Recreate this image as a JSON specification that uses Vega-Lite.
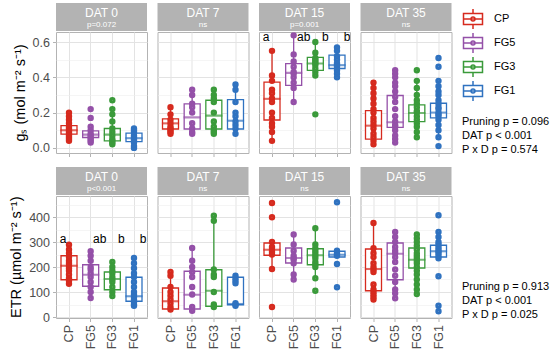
{
"$schema": "https://vega.github.io/schema/vega-lite/v6.json",
"padding": {"left": 8, "top": 3, "right": 2, "bottom": 2},
"background": "white",
"config": {
  "font": "Liberation Sans",
  "view": {"stroke": null},
  "axis": {"domain": false, "tickColor": "#B3B3B3", "tickSize": 3.5, "tickWidth": 1, "gridColor": "#E3E3E3", "gridWidth": 1, "labelColor": "#4D4D4D", "labelFontSize": 12.5, "labelFont": "Liberation Sans", "titleFont": "Liberation Sans", "titleFontWeight": "normal", "titleColor": "black", "titleFontSize": 14.5, "labelPadding": 3},
  "legend": {"orient": "none", "legendX": 406, "legendY": 5, "symbolType": "M-0.95,-0.55H0.95V0.55H-0.95Z M0,-0.55V-1 M0,0.55V1 M-0.95,0H0.95 M-0.2,0A0.2,0.2 0 1,0 0.2,0A0.2,0.2 0 1,0 -0.2,0", "symbolSize": 400, "symbolStrokeWidth": 1.5, "symbolFillColor": "transparent", "labelFontSize": 11, "labelColor": "black", "labelFont": "Liberation Sans", "rowPadding": -10, "labelOffset": 10, "padding": 0}
},
"datasets": {
  "strips": [
    {"v":"gs","d":"DAT 0","p":"p=0.072"},{"v":"gs","d":"DAT 7","p":"ns"},{"v":"gs","d":"DAT 15","p":"p=0.001"},{"v":"gs","d":"DAT 35","p":"ns"},
    {"v":"etr","d":"DAT 0","p":"p<0.001"},{"v":"etr","d":"DAT 7","p":"ns"},{"v":"etr","d":"DAT 15","p":"ns"},{"v":"etr","d":"DAT 35","p":"ns"}
  ],
  "ann": [
    {"v":"gs","line":1,"label":"Pruning p = 0.096"},{"v":"gs","line":2,"label":"DAT p < 0.001"},{"v":"gs","line":3,"label":"P x D p = 0.574"},
    {"v":"etr","line":1,"label":"Pruning p = 0.913"},{"v":"etr","line":2,"label":"DAT p < 0.001"},{"v":"etr","line":3,"label":"P x D p = 0.025"}
  ],
  "let": [
    {"v":"gs","d":"DAT 15","t":"CP","lab":"a"},{"v":"gs","d":"DAT 15","t":"FG5","lab":"ab"},{"v":"gs","d":"DAT 15","t":"FG3","lab":"b"},{"v":"gs","d":"DAT 15","t":"FG1","lab":"b"},
    {"v":"etr","d":"DAT 0","t":"CP","lab":"a"},{"v":"etr","d":"DAT 0","t":"FG5","lab":"ab"},{"v":"etr","d":"DAT 0","t":"FG3","lab":"b"},{"v":"etr","d":"DAT 0","t":"FG1","lab":"b"}
  ],
  "box": [
    {"v":"gs","d":"DAT 0","t":"CP","lo":0.04,"q1":0.078,"med":0.10,"q3":0.126,"hi":0.20},
    {"v":"gs","d":"DAT 0","t":"FG5","lo":0.03,"q1":0.059,"med":0.075,"q3":0.097,"hi":0.12},
    {"v":"gs","d":"DAT 0","t":"FG3","lo":0.02,"q1":0.04,"med":0.075,"q3":0.11,"hi":0.19},
    {"v":"gs","d":"DAT 0","t":"FG1","lo":0.0,"q1":0.036,"med":0.055,"q3":0.084,"hi":0.11},
    {"v":"gs","d":"DAT 7","t":"CP","lo":0.08,"q1":0.107,"med":0.139,"q3":0.164,"hi":0.23},
    {"v":"gs","d":"DAT 7","t":"FG5","lo":0.08,"q1":0.107,"med":0.173,"q3":0.25,"hi":0.33},
    {"v":"gs","d":"DAT 7","t":"FG3","lo":0.08,"q1":0.107,"med":0.183,"q3":0.27,"hi":0.33},
    {"v":"gs","d":"DAT 7","t":"FG1","lo":0.08,"q1":0.107,"med":0.154,"q3":0.274,"hi":0.36},
    {"v":"gs","d":"DAT 15","t":"CP","lo":0.04,"q1":0.158,"med":0.278,"q3":0.373,"hi":0.55},
    {"v":"gs","d":"DAT 15","t":"FG5","lo":0.26,"q1":0.354,"med":0.425,"q3":0.478,"hi":0.638},
    {"v":"gs","d":"DAT 15","t":"FG3","lo":0.41,"q1":0.44,"med":0.478,"q3":0.513,"hi":0.60},
    {"v":"gs","d":"DAT 15","t":"FG1","lo":0.40,"q1":0.45,"med":0.469,"q3":0.526,"hi":0.57},
    {"v":"gs","d":"DAT 35","t":"CP","lo":0.02,"q1":0.05,"med":0.126,"q3":0.211,"hi":0.37},
    {"v":"gs","d":"DAT 35","t":"FG5","lo":0.03,"q1":0.116,"med":0.145,"q3":0.297,"hi":0.44},
    {"v":"gs","d":"DAT 35","t":"FG3","lo":0.06,"q1":0.149,"med":0.198,"q3":0.244,"hi":0.38},
    {"v":"gs","d":"DAT 35","t":"FG1","lo":0.06,"q1":0.17,"med":0.20,"q3":0.253,"hi":0.38},
    {"v":"etr","d":"DAT 0","t":"CP","lo":133,"q1":149,"med":205,"q3":245,"hi":289},
    {"v":"etr","d":"DAT 0","t":"FG5","lo":76,"q1":123,"med":169,"q3":209,"hi":263},
    {"v":"etr","d":"DAT 0","t":"FG3","lo":84,"q1":109,"med":152,"q3":180,"hi":220},
    {"v":"etr","d":"DAT 0","t":"FG1","lo":45,"q1":63,"med":83,"q3":159,"hi":236},
    {"v":"etr","d":"DAT 7","t":"CP","lo":30,"q1":32,"med":63,"q3":116,"hi":180},
    {"v":"etr","d":"DAT 7","t":"FG5","lo":25,"q1":32,"med":89,"q3":183,"hi":276},
    {"v":"etr","d":"DAT 7","t":"FG3","lo":40,"q1":43,"med":105,"q3":189,"hi":405},
    {"v":"etr","d":"DAT 7","t":"FG1","lo":45,"q1":49,"med":52,"q3":159,"hi":165},
    {"v":"etr","d":"DAT 15","t":"CP","lo":192,"q1":247,"med":269,"q3":296,"hi":300},
    {"v":"etr","d":"DAT 15","t":"FG5","lo":150,"q1":216,"med":236,"q3":276,"hi":330},
    {"v":"etr","d":"DAT 15","t":"FG3","lo":155,"q1":209,"med":247,"q3":273,"hi":355},
    {"v":"etr","d":"DAT 15","t":"FG1","lo":245,"q1":240,"med":249,"q3":263,"hi":265},
    {"v":"etr","d":"DAT 35","t":"CP","lo":70,"q1":105,"med":192,"q3":272,"hi":376},
    {"v":"etr","d":"DAT 35","t":"FG5","lo":75,"q1":149,"med":253,"q3":296,"hi":340},
    {"v":"etr","d":"DAT 35","t":"FG3","lo":92,"q1":196,"med":229,"q3":276,"hi":330},
    {"v":"etr","d":"DAT 35","t":"FG1","lo":235,"q1":240,"med":263,"q3":287,"hi":340}
  ],
  "pts": [
    {"v":"gs","d":"DAT 0","t":"CP","y":0.20},{"v":"gs","d":"DAT 0","t":"CP","y":0.18},{"v":"gs","d":"DAT 0","t":"CP","y":0.16},{"v":"gs","d":"DAT 0","t":"CP","y":0.14},{"v":"gs","d":"DAT 0","t":"CP","y":0.12},{"v":"gs","d":"DAT 0","t":"CP","y":0.11},{"v":"gs","d":"DAT 0","t":"CP","y":0.10},{"v":"gs","d":"DAT 0","t":"CP","y":0.09},{"v":"gs","d":"DAT 0","t":"CP","y":0.08},{"v":"gs","d":"DAT 0","t":"CP","y":0.07},{"v":"gs","d":"DAT 0","t":"CP","y":0.06},{"v":"gs","d":"DAT 0","t":"CP","y":0.05},{"v":"gs","d":"DAT 0","t":"CP","y":0.04},
    {"v":"gs","d":"DAT 0","t":"FG5","y":0.22},{"v":"gs","d":"DAT 0","t":"FG5","y":0.17},{"v":"gs","d":"DAT 0","t":"FG5","y":0.12},{"v":"gs","d":"DAT 0","t":"FG5","y":0.10},{"v":"gs","d":"DAT 0","t":"FG5","y":0.08},{"v":"gs","d":"DAT 0","t":"FG5","y":0.07},{"v":"gs","d":"DAT 0","t":"FG5","y":0.06},{"v":"gs","d":"DAT 0","t":"FG5","y":0.05},{"v":"gs","d":"DAT 0","t":"FG5","y":0.04},{"v":"gs","d":"DAT 0","t":"FG5","y":0.03},
    {"v":"gs","d":"DAT 0","t":"FG3","y":0.27},{"v":"gs","d":"DAT 0","t":"FG3","y":0.22},{"v":"gs","d":"DAT 0","t":"FG3","y":0.19},{"v":"gs","d":"DAT 0","t":"FG3","y":0.15},{"v":"gs","d":"DAT 0","t":"FG3","y":0.11},{"v":"gs","d":"DAT 0","t":"FG3","y":0.09},{"v":"gs","d":"DAT 0","t":"FG3","y":0.07},{"v":"gs","d":"DAT 0","t":"FG3","y":0.05},{"v":"gs","d":"DAT 0","t":"FG3","y":0.04},{"v":"gs","d":"DAT 0","t":"FG3","y":0.03},{"v":"gs","d":"DAT 0","t":"FG3","y":0.02},
    {"v":"gs","d":"DAT 0","t":"FG1","y":0.11},{"v":"gs","d":"DAT 0","t":"FG1","y":0.10},{"v":"gs","d":"DAT 0","t":"FG1","y":0.09},{"v":"gs","d":"DAT 0","t":"FG1","y":0.07},{"v":"gs","d":"DAT 0","t":"FG1","y":0.06},{"v":"gs","d":"DAT 0","t":"FG1","y":0.05},{"v":"gs","d":"DAT 0","t":"FG1","y":0.04},{"v":"gs","d":"DAT 0","t":"FG1","y":0.03},{"v":"gs","d":"DAT 0","t":"FG1","y":0.01},{"v":"gs","d":"DAT 0","t":"FG1","y":0.00},
    {"v":"gs","d":"DAT 7","t":"CP","y":0.23},{"v":"gs","d":"DAT 7","t":"CP","y":0.19},{"v":"gs","d":"DAT 7","t":"CP","y":0.16},{"v":"gs","d":"DAT 7","t":"CP","y":0.14},{"v":"gs","d":"DAT 7","t":"CP","y":0.12},{"v":"gs","d":"DAT 7","t":"CP","y":0.11},{"v":"gs","d":"DAT 7","t":"CP","y":0.10},{"v":"gs","d":"DAT 7","t":"CP","y":0.09},{"v":"gs","d":"DAT 7","t":"CP","y":0.08},
    {"v":"gs","d":"DAT 7","t":"FG5","y":0.33},{"v":"gs","d":"DAT 7","t":"FG5","y":0.30},{"v":"gs","d":"DAT 7","t":"FG5","y":0.25},{"v":"gs","d":"DAT 7","t":"FG5","y":0.23},{"v":"gs","d":"DAT 7","t":"FG5","y":0.20},{"v":"gs","d":"DAT 7","t":"FG5","y":0.14},{"v":"gs","d":"DAT 7","t":"FG5","y":0.11},{"v":"gs","d":"DAT 7","t":"FG5","y":0.09},{"v":"gs","d":"DAT 7","t":"FG5","y":0.08},
    {"v":"gs","d":"DAT 7","t":"FG3","y":0.33},{"v":"gs","d":"DAT 7","t":"FG3","y":0.30},{"v":"gs","d":"DAT 7","t":"FG3","y":0.28},{"v":"gs","d":"DAT 7","t":"FG3","y":0.26},{"v":"gs","d":"DAT 7","t":"FG3","y":0.20},{"v":"gs","d":"DAT 7","t":"FG3","y":0.15},{"v":"gs","d":"DAT 7","t":"FG3","y":0.12},{"v":"gs","d":"DAT 7","t":"FG3","y":0.10},{"v":"gs","d":"DAT 7","t":"FG3","y":0.09},{"v":"gs","d":"DAT 7","t":"FG3","y":0.08},
    {"v":"gs","d":"DAT 7","t":"FG1","y":0.36},{"v":"gs","d":"DAT 7","t":"FG1","y":0.33},{"v":"gs","d":"DAT 7","t":"FG1","y":0.26},{"v":"gs","d":"DAT 7","t":"FG1","y":0.20},{"v":"gs","d":"DAT 7","t":"FG1","y":0.18},{"v":"gs","d":"DAT 7","t":"FG1","y":0.15},{"v":"gs","d":"DAT 7","t":"FG1","y":0.13},{"v":"gs","d":"DAT 7","t":"FG1","y":0.11},{"v":"gs","d":"DAT 7","t":"FG1","y":0.08},
    {"v":"gs","d":"DAT 15","t":"CP","y":0.55},{"v":"gs","d":"DAT 15","t":"CP","y":0.41},{"v":"gs","d":"DAT 15","t":"CP","y":0.38},{"v":"gs","d":"DAT 15","t":"CP","y":0.33},{"v":"gs","d":"DAT 15","t":"CP","y":0.31},{"v":"gs","d":"DAT 15","t":"CP","y":0.28},{"v":"gs","d":"DAT 15","t":"CP","y":0.26},{"v":"gs","d":"DAT 15","t":"CP","y":0.20},{"v":"gs","d":"DAT 15","t":"CP","y":0.17},{"v":"gs","d":"DAT 15","t":"CP","y":0.14},{"v":"gs","d":"DAT 15","t":"CP","y":0.12},{"v":"gs","d":"DAT 15","t":"CP","y":0.09},{"v":"gs","d":"DAT 15","t":"CP","y":0.04},
    {"v":"gs","d":"DAT 15","t":"FG5","y":0.638},{"v":"gs","d":"DAT 15","t":"FG5","y":0.53},{"v":"gs","d":"DAT 15","t":"FG5","y":0.49},{"v":"gs","d":"DAT 15","t":"FG5","y":0.46},{"v":"gs","d":"DAT 15","t":"FG5","y":0.43},{"v":"gs","d":"DAT 15","t":"FG5","y":0.42},{"v":"gs","d":"DAT 15","t":"FG5","y":0.40},{"v":"gs","d":"DAT 15","t":"FG5","y":0.37},{"v":"gs","d":"DAT 15","t":"FG5","y":0.34},{"v":"gs","d":"DAT 15","t":"FG5","y":0.26},
    {"v":"gs","d":"DAT 15","t":"FG3","y":0.60},{"v":"gs","d":"DAT 15","t":"FG3","y":0.54},{"v":"gs","d":"DAT 15","t":"FG3","y":0.51},{"v":"gs","d":"DAT 15","t":"FG3","y":0.50},{"v":"gs","d":"DAT 15","t":"FG3","y":0.49},{"v":"gs","d":"DAT 15","t":"FG3","y":0.48},{"v":"gs","d":"DAT 15","t":"FG3","y":0.47},{"v":"gs","d":"DAT 15","t":"FG3","y":0.45},{"v":"gs","d":"DAT 15","t":"FG3","y":0.43},{"v":"gs","d":"DAT 15","t":"FG3","y":0.41},{"v":"gs","d":"DAT 15","t":"FG3","y":0.19},
    {"v":"gs","d":"DAT 15","t":"FG1","y":0.57},{"v":"gs","d":"DAT 15","t":"FG1","y":0.55},{"v":"gs","d":"DAT 15","t":"FG1","y":0.52},{"v":"gs","d":"DAT 15","t":"FG1","y":0.50},{"v":"gs","d":"DAT 15","t":"FG1","y":0.48},{"v":"gs","d":"DAT 15","t":"FG1","y":0.47},{"v":"gs","d":"DAT 15","t":"FG1","y":0.46},{"v":"gs","d":"DAT 15","t":"FG1","y":0.44},{"v":"gs","d":"DAT 15","t":"FG1","y":0.42},{"v":"gs","d":"DAT 15","t":"FG1","y":0.40},
    {"v":"gs","d":"DAT 35","t":"CP","y":0.37},{"v":"gs","d":"DAT 35","t":"CP","y":0.34},{"v":"gs","d":"DAT 35","t":"CP","y":0.31},{"v":"gs","d":"DAT 35","t":"CP","y":0.28},{"v":"gs","d":"DAT 35","t":"CP","y":0.25},{"v":"gs","d":"DAT 35","t":"CP","y":0.22},{"v":"gs","d":"DAT 35","t":"CP","y":0.20},{"v":"gs","d":"DAT 35","t":"CP","y":0.17},{"v":"gs","d":"DAT 35","t":"CP","y":0.15},{"v":"gs","d":"DAT 35","t":"CP","y":0.13},{"v":"gs","d":"DAT 35","t":"CP","y":0.11},{"v":"gs","d":"DAT 35","t":"CP","y":0.08},{"v":"gs","d":"DAT 35","t":"CP","y":0.06},{"v":"gs","d":"DAT 35","t":"CP","y":0.04},{"v":"gs","d":"DAT 35","t":"CP","y":0.02},
    {"v":"gs","d":"DAT 35","t":"FG5","y":0.44},{"v":"gs","d":"DAT 35","t":"FG5","y":0.42},{"v":"gs","d":"DAT 35","t":"FG5","y":0.40},{"v":"gs","d":"DAT 35","t":"FG5","y":0.37},{"v":"gs","d":"DAT 35","t":"FG5","y":0.35},{"v":"gs","d":"DAT 35","t":"FG5","y":0.32},{"v":"gs","d":"DAT 35","t":"FG5","y":0.29},{"v":"gs","d":"DAT 35","t":"FG5","y":0.26},{"v":"gs","d":"DAT 35","t":"FG5","y":0.22},{"v":"gs","d":"DAT 35","t":"FG5","y":0.18},{"v":"gs","d":"DAT 35","t":"FG5","y":0.15},{"v":"gs","d":"DAT 35","t":"FG5","y":0.13},{"v":"gs","d":"DAT 35","t":"FG5","y":0.12},{"v":"gs","d":"DAT 35","t":"FG5","y":0.10},{"v":"gs","d":"DAT 35","t":"FG5","y":0.07},{"v":"gs","d":"DAT 35","t":"FG5","y":0.05},{"v":"gs","d":"DAT 35","t":"FG5","y":0.03},
    {"v":"gs","d":"DAT 35","t":"FG3","y":0.44},{"v":"gs","d":"DAT 35","t":"FG3","y":0.38},{"v":"gs","d":"DAT 35","t":"FG3","y":0.34},{"v":"gs","d":"DAT 35","t":"FG3","y":0.30},{"v":"gs","d":"DAT 35","t":"FG3","y":0.27},{"v":"gs","d":"DAT 35","t":"FG3","y":0.25},{"v":"gs","d":"DAT 35","t":"FG3","y":0.23},{"v":"gs","d":"DAT 35","t":"FG3","y":0.21},{"v":"gs","d":"DAT 35","t":"FG3","y":0.20},{"v":"gs","d":"DAT 35","t":"FG3","y":0.18},{"v":"gs","d":"DAT 35","t":"FG3","y":0.16},{"v":"gs","d":"DAT 35","t":"FG3","y":0.14},{"v":"gs","d":"DAT 35","t":"FG3","y":0.12},{"v":"gs","d":"DAT 35","t":"FG3","y":0.09},{"v":"gs","d":"DAT 35","t":"FG3","y":0.06},
    {"v":"gs","d":"DAT 35","t":"FG1","y":0.51},{"v":"gs","d":"DAT 35","t":"FG1","y":0.46},{"v":"gs","d":"DAT 35","t":"FG1","y":0.38},{"v":"gs","d":"DAT 35","t":"FG1","y":0.35},{"v":"gs","d":"DAT 35","t":"FG1","y":0.32},{"v":"gs","d":"DAT 35","t":"FG1","y":0.30},{"v":"gs","d":"DAT 35","t":"FG1","y":0.27},{"v":"gs","d":"DAT 35","t":"FG1","y":0.25},{"v":"gs","d":"DAT 35","t":"FG1","y":0.23},{"v":"gs","d":"DAT 35","t":"FG1","y":0.22},{"v":"gs","d":"DAT 35","t":"FG1","y":0.20},{"v":"gs","d":"DAT 35","t":"FG1","y":0.19},{"v":"gs","d":"DAT 35","t":"FG1","y":0.18},{"v":"gs","d":"DAT 35","t":"FG1","y":0.16},{"v":"gs","d":"DAT 35","t":"FG1","y":0.13},{"v":"gs","d":"DAT 35","t":"FG1","y":0.10},{"v":"gs","d":"DAT 35","t":"FG1","y":0.06},{"v":"gs","d":"DAT 35","t":"FG1","y":0.01},
    {"v":"etr","d":"DAT 0","t":"CP","y":289},{"v":"etr","d":"DAT 0","t":"CP","y":270},{"v":"etr","d":"DAT 0","t":"CP","y":255},{"v":"etr","d":"DAT 0","t":"CP","y":240},{"v":"etr","d":"DAT 0","t":"CP","y":225},{"v":"etr","d":"DAT 0","t":"CP","y":215},{"v":"etr","d":"DAT 0","t":"CP","y":205},{"v":"etr","d":"DAT 0","t":"CP","y":195},{"v":"etr","d":"DAT 0","t":"CP","y":185},{"v":"etr","d":"DAT 0","t":"CP","y":170},{"v":"etr","d":"DAT 0","t":"CP","y":155},{"v":"etr","d":"DAT 0","t":"CP","y":145},{"v":"etr","d":"DAT 0","t":"CP","y":133},
    {"v":"etr","d":"DAT 0","t":"FG5","y":263},{"v":"etr","d":"DAT 0","t":"FG5","y":245},{"v":"etr","d":"DAT 0","t":"FG5","y":225},{"v":"etr","d":"DAT 0","t":"FG5","y":200},{"v":"etr","d":"DAT 0","t":"FG5","y":190},{"v":"etr","d":"DAT 0","t":"FG5","y":175},{"v":"etr","d":"DAT 0","t":"FG5","y":160},{"v":"etr","d":"DAT 0","t":"FG5","y":140},{"v":"etr","d":"DAT 0","t":"FG5","y":120},{"v":"etr","d":"DAT 0","t":"FG5","y":100},{"v":"etr","d":"DAT 0","t":"FG5","y":76},
    {"v":"etr","d":"DAT 0","t":"FG3","y":220},{"v":"etr","d":"DAT 0","t":"FG3","y":200},{"v":"etr","d":"DAT 0","t":"FG3","y":185},{"v":"etr","d":"DAT 0","t":"FG3","y":175},{"v":"etr","d":"DAT 0","t":"FG3","y":160},{"v":"etr","d":"DAT 0","t":"FG3","y":150},{"v":"etr","d":"DAT 0","t":"FG3","y":140},{"v":"etr","d":"DAT 0","t":"FG3","y":120},{"v":"etr","d":"DAT 0","t":"FG3","y":100},{"v":"etr","d":"DAT 0","t":"FG3","y":84},
    {"v":"etr","d":"DAT 0","t":"FG1","y":236},{"v":"etr","d":"DAT 0","t":"FG1","y":215},{"v":"etr","d":"DAT 0","t":"FG1","y":195},{"v":"etr","d":"DAT 0","t":"FG1","y":175},{"v":"etr","d":"DAT 0","t":"FG1","y":160},{"v":"etr","d":"DAT 0","t":"FG1","y":140},{"v":"etr","d":"DAT 0","t":"FG1","y":120},{"v":"etr","d":"DAT 0","t":"FG1","y":100},{"v":"etr","d":"DAT 0","t":"FG1","y":90},{"v":"etr","d":"DAT 0","t":"FG1","y":80},{"v":"etr","d":"DAT 0","t":"FG1","y":70},{"v":"etr","d":"DAT 0","t":"FG1","y":60},{"v":"etr","d":"DAT 0","t":"FG1","y":50},{"v":"etr","d":"DAT 0","t":"FG1","y":45},
    {"v":"etr","d":"DAT 7","t":"CP","y":180},{"v":"etr","d":"DAT 7","t":"CP","y":165},{"v":"etr","d":"DAT 7","t":"CP","y":120},{"v":"etr","d":"DAT 7","t":"CP","y":100},{"v":"etr","d":"DAT 7","t":"CP","y":85},{"v":"etr","d":"DAT 7","t":"CP","y":70},{"v":"etr","d":"DAT 7","t":"CP","y":55},{"v":"etr","d":"DAT 7","t":"CP","y":40},{"v":"etr","d":"DAT 7","t":"CP","y":30},
    {"v":"etr","d":"DAT 7","t":"FG5","y":276},{"v":"etr","d":"DAT 7","t":"FG5","y":225},{"v":"etr","d":"DAT 7","t":"FG5","y":200},{"v":"etr","d":"DAT 7","t":"FG5","y":180},{"v":"etr","d":"DAT 7","t":"FG5","y":160},{"v":"etr","d":"DAT 7","t":"FG5","y":120},{"v":"etr","d":"DAT 7","t":"FG5","y":90},{"v":"etr","d":"DAT 7","t":"FG5","y":40},{"v":"etr","d":"DAT 7","t":"FG5","y":25},
    {"v":"etr","d":"DAT 7","t":"FG3","y":405},{"v":"etr","d":"DAT 7","t":"FG3","y":385},{"v":"etr","d":"DAT 7","t":"FG3","y":190},{"v":"etr","d":"DAT 7","t":"FG3","y":170},{"v":"etr","d":"DAT 7","t":"FG3","y":160},{"v":"etr","d":"DAT 7","t":"FG3","y":100},{"v":"etr","d":"DAT 7","t":"FG3","y":50},{"v":"etr","d":"DAT 7","t":"FG3","y":40},
    {"v":"etr","d":"DAT 7","t":"FG1","y":165},{"v":"etr","d":"DAT 7","t":"FG1","y":155},{"v":"etr","d":"DAT 7","t":"FG1","y":145},{"v":"etr","d":"DAT 7","t":"FG1","y":135},{"v":"etr","d":"DAT 7","t":"FG1","y":55},{"v":"etr","d":"DAT 7","t":"FG1","y":50},{"v":"etr","d":"DAT 7","t":"FG1","y":45},
    {"v":"etr","d":"DAT 15","t":"CP","y":456},{"v":"etr","d":"DAT 15","t":"CP","y":399},{"v":"etr","d":"DAT 15","t":"CP","y":300},{"v":"etr","d":"DAT 15","t":"CP","y":280},{"v":"etr","d":"DAT 15","t":"CP","y":270},{"v":"etr","d":"DAT 15","t":"CP","y":260},{"v":"etr","d":"DAT 15","t":"CP","y":250},{"v":"etr","d":"DAT 15","t":"CP","y":192},{"v":"etr","d":"DAT 15","t":"CP","y":40},
    {"v":"etr","d":"DAT 15","t":"FG5","y":330},{"v":"etr","d":"DAT 15","t":"FG5","y":290},{"v":"etr","d":"DAT 15","t":"FG5","y":265},{"v":"etr","d":"DAT 15","t":"FG5","y":245},{"v":"etr","d":"DAT 15","t":"FG5","y":235},{"v":"etr","d":"DAT 15","t":"FG5","y":230},{"v":"etr","d":"DAT 15","t":"FG5","y":215},{"v":"etr","d":"DAT 15","t":"FG5","y":170},{"v":"etr","d":"DAT 15","t":"FG5","y":150},
    {"v":"etr","d":"DAT 15","t":"FG3","y":355},{"v":"etr","d":"DAT 15","t":"FG3","y":290},{"v":"etr","d":"DAT 15","t":"FG3","y":275},{"v":"etr","d":"DAT 15","t":"FG3","y":265},{"v":"etr","d":"DAT 15","t":"FG3","y":255},{"v":"etr","d":"DAT 15","t":"FG3","y":245},{"v":"etr","d":"DAT 15","t":"FG3","y":235},{"v":"etr","d":"DAT 15","t":"FG3","y":220},{"v":"etr","d":"DAT 15","t":"FG3","y":210},{"v":"etr","d":"DAT 15","t":"FG3","y":200},{"v":"etr","d":"DAT 15","t":"FG3","y":155},{"v":"etr","d":"DAT 15","t":"FG3","y":105},
    {"v":"etr","d":"DAT 15","t":"FG1","y":459},{"v":"etr","d":"DAT 15","t":"FG1","y":265},{"v":"etr","d":"DAT 15","t":"FG1","y":255},{"v":"etr","d":"DAT 15","t":"FG1","y":250},{"v":"etr","d":"DAT 15","t":"FG1","y":245},{"v":"etr","d":"DAT 15","t":"FG1","y":212},{"v":"etr","d":"DAT 15","t":"FG1","y":119},
    {"v":"etr","d":"DAT 35","t":"CP","y":376},{"v":"etr","d":"DAT 35","t":"CP","y":275},{"v":"etr","d":"DAT 35","t":"CP","y":255},{"v":"etr","d":"DAT 35","t":"CP","y":240},{"v":"etr","d":"DAT 35","t":"CP","y":215},{"v":"etr","d":"DAT 35","t":"CP","y":200},{"v":"etr","d":"DAT 35","t":"CP","y":190},{"v":"etr","d":"DAT 35","t":"CP","y":180},{"v":"etr","d":"DAT 35","t":"CP","y":130},{"v":"etr","d":"DAT 35","t":"CP","y":110},{"v":"etr","d":"DAT 35","t":"CP","y":100},{"v":"etr","d":"DAT 35","t":"CP","y":90},{"v":"etr","d":"DAT 35","t":"CP","y":80},{"v":"etr","d":"DAT 35","t":"CP","y":70},
    {"v":"etr","d":"DAT 35","t":"FG5","y":340},{"v":"etr","d":"DAT 35","t":"FG5","y":320},{"v":"etr","d":"DAT 35","t":"FG5","y":300},{"v":"etr","d":"DAT 35","t":"FG5","y":280},{"v":"etr","d":"DAT 35","t":"FG5","y":265},{"v":"etr","d":"DAT 35","t":"FG5","y":255},{"v":"etr","d":"DAT 35","t":"FG5","y":240},{"v":"etr","d":"DAT 35","t":"FG5","y":220},{"v":"etr","d":"DAT 35","t":"FG5","y":190},{"v":"etr","d":"DAT 35","t":"FG5","y":165},{"v":"etr","d":"DAT 35","t":"FG5","y":140},{"v":"etr","d":"DAT 35","t":"FG5","y":110},{"v":"etr","d":"DAT 35","t":"FG5","y":95},{"v":"etr","d":"DAT 35","t":"FG5","y":75},
    {"v":"etr","d":"DAT 35","t":"FG3","y":330},{"v":"etr","d":"DAT 35","t":"FG3","y":315},{"v":"etr","d":"DAT 35","t":"FG3","y":300},{"v":"etr","d":"DAT 35","t":"FG3","y":285},{"v":"etr","d":"DAT 35","t":"FG3","y":270},{"v":"etr","d":"DAT 35","t":"FG3","y":255},{"v":"etr","d":"DAT 35","t":"FG3","y":245},{"v":"etr","d":"DAT 35","t":"FG3","y":235},{"v":"etr","d":"DAT 35","t":"FG3","y":225},{"v":"etr","d":"DAT 35","t":"FG3","y":215},{"v":"etr","d":"DAT 35","t":"FG3","y":200},{"v":"etr","d":"DAT 35","t":"FG3","y":185},{"v":"etr","d":"DAT 35","t":"FG3","y":170},{"v":"etr","d":"DAT 35","t":"FG3","y":150},{"v":"etr","d":"DAT 35","t":"FG3","y":130},{"v":"etr","d":"DAT 35","t":"FG3","y":110},{"v":"etr","d":"DAT 35","t":"FG3","y":92},
    {"v":"etr","d":"DAT 35","t":"FG1","y":407},{"v":"etr","d":"DAT 35","t":"FG1","y":340},{"v":"etr","d":"DAT 35","t":"FG1","y":320},{"v":"etr","d":"DAT 35","t":"FG1","y":300},{"v":"etr","d":"DAT 35","t":"FG1","y":290},{"v":"etr","d":"DAT 35","t":"FG1","y":280},{"v":"etr","d":"DAT 35","t":"FG1","y":270},{"v":"etr","d":"DAT 35","t":"FG1","y":262},{"v":"etr","d":"DAT 35","t":"FG1","y":255},{"v":"etr","d":"DAT 35","t":"FG1","y":245},{"v":"etr","d":"DAT 35","t":"FG1","y":235},{"v":"etr","d":"DAT 35","t":"FG1","y":163},{"v":"etr","d":"DAT 35","t":"FG1","y":45},{"v":"etr","d":"DAT 35","t":"FG1","y":23}
  ]
},
"columns": 5,
"spacing": {"row": 0, "column": 8.5},
"concat": [
  {"width": 91, "height": 28, "data": {"name": "strips"}, "transform": [{"filter": "datum.v=='gs' && datum.d=='DAT 0'"}], "layer": [{"mark": {"type": "rect", "color": "#B3B3B3"}, "encoding": {}}, {"mark": {"type": "text", "color": "white", "fontSize": 12, "dy": -4}, "encoding": {"text": {"field": "d"}}}, {"mark": {"type": "text", "color": "white", "fontSize": 8, "dy": 8}, "encoding": {"text": {"field": "p"}}}]},
  {"width": 91, "height": 28, "data": {"name": "strips"}, "transform": [{"filter": "datum.v=='gs' && datum.d=='DAT 7'"}], "layer": [{"mark": {"type": "rect", "color": "#B3B3B3"}, "encoding": {}}, {"mark": {"type": "text", "color": "white", "fontSize": 12, "dy": -4}, "encoding": {"text": {"field": "d"}}}, {"mark": {"type": "text", "color": "white", "fontSize": 8, "dy": 8}, "encoding": {"text": {"field": "p"}}}]},
  {"width": 91, "height": 28, "data": {"name": "strips"}, "transform": [{"filter": "datum.v=='gs' && datum.d=='DAT 15'"}], "layer": [{"mark": {"type": "rect", "color": "#B3B3B3"}, "encoding": {}}, {"mark": {"type": "text", "color": "white", "fontSize": 12, "dy": -4}, "encoding": {"text": {"field": "d"}}}, {"mark": {"type": "text", "color": "white", "fontSize": 8, "dy": 8}, "encoding": {"text": {"field": "p"}}}]},
  {"width": 91, "height": 28, "data": {"name": "strips"}, "transform": [{"filter": "datum.v=='gs' && datum.d=='DAT 35'"}], "layer": [{"mark": {"type": "rect", "color": "#B3B3B3"}, "encoding": {}}, {"mark": {"type": "text", "color": "white", "fontSize": 12, "dy": -4}, "encoding": {"text": {"field": "d"}}}, {"mark": {"type": "text", "color": "white", "fontSize": 8, "dy": 8}, "encoding": {"text": {"field": "p"}}}]},
  {"width": 2, "height": 28, "data": {"values": []}, "mark": "point", "encoding": {}},

  {"width": 91, "height": 121, "view": {"stroke": "#B3B3B3"}, "resolve": {"axis": {"y": "independent"}},
   "encoding": {"x": {"field": "t", "type": "nominal", "sort": ["CP","FG5","FG3","FG1"], "scale": {"paddingInner": 0, "paddingOuter": 0.1}, "axis": {"title": null, "labels": false, "grid": true, "bandPosition": 0.5, "minExtent": 13, "maxExtent": 13}},
                "color": {"field": "t", "type": "nominal", "title": null, "scale": {"domain": ["CP","FG5","FG3","FG1"], "range": ["#D62A1E","#9450A8","#3A9A3A","#2F72C0"]}}},
   "layer": [
     {"data": {"name": "box"}, "transform": [{"filter": "datum.v=='gs' && datum.d=='DAT 0'"}], "mark": {"type": "rule", "strokeWidth": 1.3}, "encoding": {"y": {"field": "lo", "type": "quantitative", "scale": {"domain": [-0.029, 0.657], "nice": false, "zero": false}, "axis": {"orient": "left", "values": [0.1,0.3,0.5], "labels": false, "ticks": false, "title": null, "grid": true, "gridColor": "#EFEFEF", "gridWidth": 0.6}}, "y2": {"field": "hi"}}},
     {"data": {"name": "box"}, "transform": [{"filter": "datum.v=='gs' && datum.d=='DAT 0'"}], "mark": {"type": "bar", "filled": false, "fill": "white", "strokeWidth": 1.3, "size": 16}, "encoding": {"y": {"field": "q1", "type": "quantitative", "axis": {"orient": "left", "values": [0,0.2,0.4,0.6], "format": ".1f", "title": "gₛ (mol m⁻² s⁻¹)", "grid": true, "titlePadding": 5}}, "y2": {"field": "q3"}}},
     {"data": {"name": "box"}, "transform": [{"filter": "datum.v=='gs' && datum.d=='DAT 0'"}], "mark": {"type": "tick", "filled": false, "thickness": 0.4, "strokeWidth": 1.7, "size": 15.5}, "encoding": {"y": {"field": "med", "type": "quantitative", "axis": null}}},
     {"data": {"name": "pts"}, "transform": [{"filter": "datum.v=='gs' && datum.d=='DAT 0'"}], "mark": {"type": "point", "shape": "circle", "filled": false, "size": 9, "strokeWidth": 3.4, "opacity": 1, "clip": true}, "encoding": {"y": {"field": "y", "type": "quantitative", "axis": null}}}
   ]},
  {"width": 91, "height": 121, "view": {"stroke": "#B3B3B3"}, "resolve": {"axis": {"y": "independent"}},
   "encoding": {"x": {"field": "t", "type": "nominal", "sort": ["CP","FG5","FG3","FG1"], "scale": {"paddingInner": 0, "paddingOuter": 0.1}, "axis": {"title": null, "labels": false, "grid": true, "bandPosition": 0.5, "minExtent": 13, "maxExtent": 13}},
                "color": {"field": "t", "type": "nominal", "title": null, "scale": {"domain": ["CP","FG5","FG3","FG1"], "range": ["#D62A1E","#9450A8","#3A9A3A","#2F72C0"]}}},
   "layer": [
     {"data": {"name": "box"}, "transform": [{"filter": "datum.v=='gs' && datum.d=='DAT 7'"}], "mark": {"type": "rule", "strokeWidth": 1.3}, "encoding": {"y": {"field": "lo", "type": "quantitative", "scale": {"domain": [-0.029, 0.657], "nice": false, "zero": false}, "axis": {"orient": "left", "values": [0.1,0.3,0.5], "labels": false, "ticks": false, "title": null, "grid": true, "gridColor": "#EFEFEF", "gridWidth": 0.6}}, "y2": {"field": "hi"}}},
     {"data": {"name": "box"}, "transform": [{"filter": "datum.v=='gs' && datum.d=='DAT 7'"}], "mark": {"type": "bar", "filled": false, "fill": "white", "strokeWidth": 1.3, "size": 16}, "encoding": {"y": {"field": "q1", "type": "quantitative", "axis": {"orient": "left", "values": [0,0.2,0.4,0.6], "labels": false, "ticks": false, "title": null, "grid": true}}, "y2": {"field": "q3"}}},
     {"data": {"name": "box"}, "transform": [{"filter": "datum.v=='gs' && datum.d=='DAT 7'"}], "mark": {"type": "tick", "filled": false, "thickness": 0.4, "strokeWidth": 1.7, "size": 15.5}, "encoding": {"y": {"field": "med", "type": "quantitative", "axis": null}}},
     {"data": {"name": "pts"}, "transform": [{"filter": "datum.v=='gs' && datum.d=='DAT 7'"}], "mark": {"type": "point", "shape": "circle", "filled": false, "size": 9, "strokeWidth": 3.4, "opacity": 1, "clip": true}, "encoding": {"y": {"field": "y", "type": "quantitative", "axis": null}}}
   ]},
  {"width": 91, "height": 121, "view": {"stroke": "#B3B3B3"}, "resolve": {"axis": {"y": "independent"}},
   "encoding": {"x": {"field": "t", "type": "nominal", "sort": ["CP","FG5","FG3","FG1"], "scale": {"paddingInner": 0, "paddingOuter": 0.1}, "axis": {"title": null, "labels": false, "grid": true, "bandPosition": 0.5, "minExtent": 13, "maxExtent": 13}},
                "color": {"field": "t", "type": "nominal", "title": null, "scale": {"domain": ["CP","FG5","FG3","FG1"], "range": ["#D62A1E","#9450A8","#3A9A3A","#2F72C0"]}}},
   "layer": [
     {"data": {"name": "box"}, "transform": [{"filter": "datum.v=='gs' && datum.d=='DAT 15'"}], "mark": {"type": "rule", "strokeWidth": 1.3}, "encoding": {"y": {"field": "lo", "type": "quantitative", "scale": {"domain": [-0.029, 0.657], "nice": false, "zero": false}, "axis": {"orient": "left", "values": [0.1,0.3,0.5], "labels": false, "ticks": false, "title": null, "grid": true, "gridColor": "#EFEFEF", "gridWidth": 0.6}}, "y2": {"field": "hi"}}},
     {"data": {"name": "box"}, "transform": [{"filter": "datum.v=='gs' && datum.d=='DAT 15'"}], "mark": {"type": "bar", "filled": false, "fill": "white", "strokeWidth": 1.3, "size": 16}, "encoding": {"y": {"field": "q1", "type": "quantitative", "axis": {"orient": "left", "values": [0,0.2,0.4,0.6], "labels": false, "ticks": false, "title": null, "grid": true}}, "y2": {"field": "q3"}}},
     {"data": {"name": "box"}, "transform": [{"filter": "datum.v=='gs' && datum.d=='DAT 15'"}], "mark": {"type": "tick", "filled": false, "thickness": 0.4, "strokeWidth": 1.7, "size": 15.5}, "encoding": {"y": {"field": "med", "type": "quantitative", "axis": null}}},
     {"data": {"name": "pts"}, "transform": [{"filter": "datum.v=='gs' && datum.d=='DAT 15'"}], "mark": {"type": "point", "shape": "circle", "filled": false, "size": 9, "strokeWidth": 3.4, "opacity": 1, "clip": true}, "encoding": {"y": {"field": "y", "type": "quantitative", "axis": null}}},
     {"data": {"name": "let"}, "transform": [{"filter": "datum.v=='gs' && datum.d=='DAT 15' && datum.lab=='a'"}], "mark": {"type": "text", "fontSize": 12, "dx": -6, "clip": true}, "encoding": {"y": {"datum": 0.627, "type": "quantitative", "axis": null}, "text": {"field": "lab"}, "color": {"value": "black"}}},
     {"data": {"name": "let"}, "transform": [{"filter": "datum.v=='gs' && datum.d=='DAT 15' && datum.lab!='a'"}], "mark": {"type": "text", "fontSize": 12, "dx": 10, "clip": true}, "encoding": {"y": {"datum": 0.627, "type": "quantitative", "axis": null}, "text": {"field": "lab"}, "color": {"value": "black"}}}
   ]},
  {"width": 91, "height": 121, "view": {"stroke": "#B3B3B3"}, "resolve": {"axis": {"y": "independent"}},
   "encoding": {"x": {"field": "t", "type": "nominal", "sort": ["CP","FG5","FG3","FG1"], "scale": {"paddingInner": 0, "paddingOuter": 0.1}, "axis": {"title": null, "labels": false, "grid": true, "bandPosition": 0.5, "minExtent": 13, "maxExtent": 13}},
                "color": {"field": "t", "type": "nominal", "title": null, "scale": {"domain": ["CP","FG5","FG3","FG1"], "range": ["#D62A1E","#9450A8","#3A9A3A","#2F72C0"]}}},
   "layer": [
     {"data": {"name": "box"}, "transform": [{"filter": "datum.v=='gs' && datum.d=='DAT 35'"}], "mark": {"type": "rule", "strokeWidth": 1.3}, "encoding": {"y": {"field": "lo", "type": "quantitative", "scale": {"domain": [-0.029, 0.657], "nice": false, "zero": false}, "axis": {"orient": "left", "values": [0.1,0.3,0.5], "labels": false, "ticks": false, "title": null, "grid": true, "gridColor": "#EFEFEF", "gridWidth": 0.6}}, "y2": {"field": "hi"}}},
     {"data": {"name": "box"}, "transform": [{"filter": "datum.v=='gs' && datum.d=='DAT 35'"}], "mark": {"type": "bar", "filled": false, "fill": "white", "strokeWidth": 1.3, "size": 16}, "encoding": {"y": {"field": "q1", "type": "quantitative", "axis": {"orient": "left", "values": [0,0.2,0.4,0.6], "labels": false, "ticks": false, "title": null, "grid": true}}, "y2": {"field": "q3"}}},
     {"data": {"name": "box"}, "transform": [{"filter": "datum.v=='gs' && datum.d=='DAT 35'"}], "mark": {"type": "tick", "filled": false, "thickness": 0.4, "strokeWidth": 1.7, "size": 15.5}, "encoding": {"y": {"field": "med", "type": "quantitative", "axis": null}}},
     {"data": {"name": "pts"}, "transform": [{"filter": "datum.v=='gs' && datum.d=='DAT 35'"}], "mark": {"type": "point", "shape": "circle", "filled": false, "size": 9, "strokeWidth": 3.4, "opacity": 1, "clip": true}, "encoding": {"y": {"field": "y", "type": "quantitative", "axis": null}}}
   ]},
  {"width": 2, "height": 121, "data": {"name": "ann"}, "transform": [{"filter": "datum.v=='gs'"}], "mark": {"type": "text", "align": "left", "fontSize": 11, "color": "black"}, "encoding": {"y": {"field": "line", "type": "quantitative", "axis": null, "scale": {"domain": [-5.4286, 3.2143], "reverse": true, "nice": false, "zero": false}}, "text": {"field": "label"}}},

  {"width": 91, "height": 28, "data": {"name": "strips"}, "transform": [{"filter": "datum.v=='etr' && datum.d=='DAT 0'"}], "layer": [{"mark": {"type": "rect", "color": "#B3B3B3"}, "encoding": {}}, {"mark": {"type": "text", "color": "white", "fontSize": 12, "dy": -4}, "encoding": {"text": {"field": "d"}}}, {"mark": {"type": "text", "color": "white", "fontSize": 8, "dy": 8}, "encoding": {"text": {"field": "p"}}}]},
  {"width": 91, "height": 28, "data": {"name": "strips"}, "transform": [{"filter": "datum.v=='etr' && datum.d=='DAT 7'"}], "layer": [{"mark": {"type": "rect", "color": "#B3B3B3"}, "encoding": {}}, {"mark": {"type": "text", "color": "white", "fontSize": 12, "dy": -4}, "encoding": {"text": {"field": "d"}}}, {"mark": {"type": "text", "color": "white", "fontSize": 8, "dy": 8}, "encoding": {"text": {"field": "p"}}}]},
  {"width": 91, "height": 28, "data": {"name": "strips"}, "transform": [{"filter": "datum.v=='etr' && datum.d=='DAT 15'"}], "layer": [{"mark": {"type": "rect", "color": "#B3B3B3"}, "encoding": {}}, {"mark": {"type": "text", "color": "white", "fontSize": 12, "dy": -4}, "encoding": {"text": {"field": "d"}}}, {"mark": {"type": "text", "color": "white", "fontSize": 8, "dy": 8}, "encoding": {"text": {"field": "p"}}}]},
  {"width": 91, "height": 28, "data": {"name": "strips"}, "transform": [{"filter": "datum.v=='etr' && datum.d=='DAT 35'"}], "layer": [{"mark": {"type": "rect", "color": "#B3B3B3"}, "encoding": {}}, {"mark": {"type": "text", "color": "white", "fontSize": 12, "dy": -4}, "encoding": {"text": {"field": "d"}}}, {"mark": {"type": "text", "color": "white", "fontSize": 8, "dy": 8}, "encoding": {"text": {"field": "p"}}}]},
  {"width": 2, "height": 28, "data": {"values": []}, "mark": "point", "encoding": {}},

  {"width": 91, "height": 122, "view": {"stroke": "#B3B3B3"}, "resolve": {"axis": {"y": "independent"}},
   "encoding": {"x": {"field": "t", "type": "nominal", "sort": ["CP","FG5","FG3","FG1"], "scale": {"paddingInner": 0, "paddingOuter": 0.1}, "axis": {"title": null, "labelAngle": 270, "grid": true, "bandPosition": 0.5}},
                "color": {"field": "t", "type": "nominal", "title": null, "scale": {"domain": ["CP","FG5","FG3","FG1"], "range": ["#D62A1E","#9450A8","#3A9A3A","#2F72C0"]}}},
   "layer": [
     {"data": {"name": "box"}, "transform": [{"filter": "datum.v=='etr' && datum.d=='DAT 0'"}], "mark": {"type": "rule", "strokeWidth": 1.3}, "encoding": {"y": {"field": "lo", "type": "quantitative", "scale": {"domain": [-4, 484], "nice": false, "zero": false}, "axis": {"orient": "left", "values": [50,150,250,350,450], "labels": false, "ticks": false, "title": null, "grid": true, "gridColor": "#EFEFEF", "gridWidth": 0.6}}, "y2": {"field": "hi"}}},
     {"data": {"name": "box"}, "transform": [{"filter": "datum.v=='etr' && datum.d=='DAT 0'"}], "mark": {"type": "bar", "filled": false, "fill": "white", "strokeWidth": 1.3, "size": 16}, "encoding": {"y": {"field": "q1", "type": "quantitative", "axis": {"orient": "left", "values": [0,100,200,300,400], "title": "ETR (µmol m⁻² s⁻¹)", "titleAnchor": "end", "grid": true, "titlePadding": 5}}, "y2": {"field": "q3"}}},
     {"data": {"name": "box"}, "transform": [{"filter": "datum.v=='etr' && datum.d=='DAT 0'"}], "mark": {"type": "tick", "filled": false, "thickness": 0.4, "strokeWidth": 1.7, "size": 15.5}, "encoding": {"y": {"field": "med", "type": "quantitative", "axis": null}}},
     {"data": {"name": "pts"}, "transform": [{"filter": "datum.v=='etr' && datum.d=='DAT 0'"}], "mark": {"type": "point", "shape": "circle", "filled": false, "size": 9, "strokeWidth": 3.4, "opacity": 1, "clip": true}, "encoding": {"y": {"field": "y", "type": "quantitative", "axis": null}}},
     {"data": {"name": "let"}, "transform": [{"filter": "datum.v=='etr' && datum.d=='DAT 0' && datum.lab=='a'"}], "mark": {"type": "text", "fontSize": 12, "dx": -6, "clip": true}, "encoding": {"y": {"datum": 314, "type": "quantitative", "axis": null}, "text": {"field": "lab"}, "color": {"value": "black"}}},
     {"data": {"name": "let"}, "transform": [{"filter": "datum.v=='etr' && datum.d=='DAT 0' && datum.lab!='a'"}], "mark": {"type": "text", "fontSize": 12, "dx": 9, "clip": true}, "encoding": {"y": {"datum": 314, "type": "quantitative", "axis": null}, "text": {"field": "lab"}, "color": {"value": "black"}}}
   ]},
  {"width": 91, "height": 122, "view": {"stroke": "#B3B3B3"}, "resolve": {"axis": {"y": "independent"}},
   "encoding": {"x": {"field": "t", "type": "nominal", "sort": ["CP","FG5","FG3","FG1"], "scale": {"paddingInner": 0, "paddingOuter": 0.1}, "axis": {"title": null, "labelAngle": 270, "grid": true, "bandPosition": 0.5}},
                "color": {"field": "t", "type": "nominal", "title": null, "scale": {"domain": ["CP","FG5","FG3","FG1"], "range": ["#D62A1E","#9450A8","#3A9A3A","#2F72C0"]}}},
   "layer": [
     {"data": {"name": "box"}, "transform": [{"filter": "datum.v=='etr' && datum.d=='DAT 7'"}], "mark": {"type": "rule", "strokeWidth": 1.3}, "encoding": {"y": {"field": "lo", "type": "quantitative", "scale": {"domain": [-4, 484], "nice": false, "zero": false}, "axis": {"orient": "left", "values": [50,150,250,350,450], "labels": false, "ticks": false, "title": null, "grid": true, "gridColor": "#EFEFEF", "gridWidth": 0.6}}, "y2": {"field": "hi"}}},
     {"data": {"name": "box"}, "transform": [{"filter": "datum.v=='etr' && datum.d=='DAT 7'"}], "mark": {"type": "bar", "filled": false, "fill": "white", "strokeWidth": 1.3, "size": 16}, "encoding": {"y": {"field": "q1", "type": "quantitative", "axis": {"orient": "left", "values": [0,100,200,300,400], "labels": false, "ticks": false, "title": null, "grid": true}}, "y2": {"field": "q3"}}},
     {"data": {"name": "box"}, "transform": [{"filter": "datum.v=='etr' && datum.d=='DAT 7'"}], "mark": {"type": "tick", "filled": false, "thickness": 0.4, "strokeWidth": 1.7, "size": 15.5}, "encoding": {"y": {"field": "med", "type": "quantitative", "axis": null}}},
     {"data": {"name": "pts"}, "transform": [{"filter": "datum.v=='etr' && datum.d=='DAT 7'"}], "mark": {"type": "point", "shape": "circle", "filled": false, "size": 9, "strokeWidth": 3.4, "opacity": 1, "clip": true}, "encoding": {"y": {"field": "y", "type": "quantitative", "axis": null}}}
   ]},
  {"width": 91, "height": 122, "view": {"stroke": "#B3B3B3"}, "resolve": {"axis": {"y": "independent"}},
   "encoding": {"x": {"field": "t", "type": "nominal", "sort": ["CP","FG5","FG3","FG1"], "scale": {"paddingInner": 0, "paddingOuter": 0.1}, "axis": {"title": null, "labelAngle": 270, "grid": true, "bandPosition": 0.5}},
                "color": {"field": "t", "type": "nominal", "title": null, "scale": {"domain": ["CP","FG5","FG3","FG1"], "range": ["#D62A1E","#9450A8","#3A9A3A","#2F72C0"]}}},
   "layer": [
     {"data": {"name": "box"}, "transform": [{"filter": "datum.v=='etr' && datum.d=='DAT 15'"}], "mark": {"type": "rule", "strokeWidth": 1.3}, "encoding": {"y": {"field": "lo", "type": "quantitative", "scale": {"domain": [-4, 484], "nice": false, "zero": false}, "axis": {"orient": "left", "values": [50,150,250,350,450], "labels": false, "ticks": false, "title": null, "grid": true, "gridColor": "#EFEFEF", "gridWidth": 0.6}}, "y2": {"field": "hi"}}},
     {"data": {"name": "box"}, "transform": [{"filter": "datum.v=='etr' && datum.d=='DAT 15'"}], "mark": {"type": "bar", "filled": false, "fill": "white", "strokeWidth": 1.3, "size": 16}, "encoding": {"y": {"field": "q1", "type": "quantitative", "axis": {"orient": "left", "values": [0,100,200,300,400], "labels": false, "ticks": false, "title": null, "grid": true}}, "y2": {"field": "q3"}}},
     {"data": {"name": "box"}, "transform": [{"filter": "datum.v=='etr' && datum.d=='DAT 15'"}], "mark": {"type": "tick", "filled": false, "thickness": 0.4, "strokeWidth": 1.7, "size": 15.5}, "encoding": {"y": {"field": "med", "type": "quantitative", "axis": null}}},
     {"data": {"name": "pts"}, "transform": [{"filter": "datum.v=='etr' && datum.d=='DAT 15'"}], "mark": {"type": "point", "shape": "circle", "filled": false, "size": 9, "strokeWidth": 3.4, "opacity": 1, "clip": true}, "encoding": {"y": {"field": "y", "type": "quantitative", "axis": null}}}
   ]},
  {"width": 91, "height": 122, "view": {"stroke": "#B3B3B3"}, "resolve": {"axis": {"y": "independent"}},
   "encoding": {"x": {"field": "t", "type": "nominal", "sort": ["CP","FG5","FG3","FG1"], "scale": {"paddingInner": 0, "paddingOuter": 0.1}, "axis": {"title": null, "labelAngle": 270, "grid": true, "bandPosition": 0.5}},
                "color": {"field": "t", "type": "nominal", "title": null, "scale": {"domain": ["CP","FG5","FG3","FG1"], "range": ["#D62A1E","#9450A8","#3A9A3A","#2F72C0"]}}},
   "layer": [
     {"data": {"name": "box"}, "transform": [{"filter": "datum.v=='etr' && datum.d=='DAT 35'"}], "mark": {"type": "rule", "strokeWidth": 1.3}, "encoding": {"y": {"field": "lo", "type": "quantitative", "scale": {"domain": [-4, 484], "nice": false, "zero": false}, "axis": {"orient": "left", "values": [50,150,250,350,450], "labels": false, "ticks": false, "title": null, "grid": true, "gridColor": "#EFEFEF", "gridWidth": 0.6}}, "y2": {"field": "hi"}}},
     {"data": {"name": "box"}, "transform": [{"filter": "datum.v=='etr' && datum.d=='DAT 35'"}], "mark": {"type": "bar", "filled": false, "fill": "white", "strokeWidth": 1.3, "size": 16}, "encoding": {"y": {"field": "q1", "type": "quantitative", "axis": {"orient": "left", "values": [0,100,200,300,400], "labels": false, "ticks": false, "title": null, "grid": true}}, "y2": {"field": "q3"}}},
     {"data": {"name": "box"}, "transform": [{"filter": "datum.v=='etr' && datum.d=='DAT 35'"}], "mark": {"type": "tick", "filled": false, "thickness": 0.4, "strokeWidth": 1.7, "size": 15.5}, "encoding": {"y": {"field": "med", "type": "quantitative", "axis": null}}},
     {"data": {"name": "pts"}, "transform": [{"filter": "datum.v=='etr' && datum.d=='DAT 35'"}], "mark": {"type": "point", "shape": "circle", "filled": false, "size": 9, "strokeWidth": 3.4, "opacity": 1, "clip": true}, "encoding": {"y": {"field": "y", "type": "quantitative", "axis": null}}}
   ]},
  {"width": 2, "height": 122, "data": {"name": "ann"}, "transform": [{"filter": "datum.v=='etr'"}], "mark": {"type": "text", "align": "left", "fontSize": 11, "color": "black"}, "encoding": {"y": {"field": "line", "type": "quantitative", "axis": null, "scale": {"domain": [-5.5, 3.214], "reverse": true, "nice": false, "zero": false}}, "text": {"field": "label"}}}
]
}
